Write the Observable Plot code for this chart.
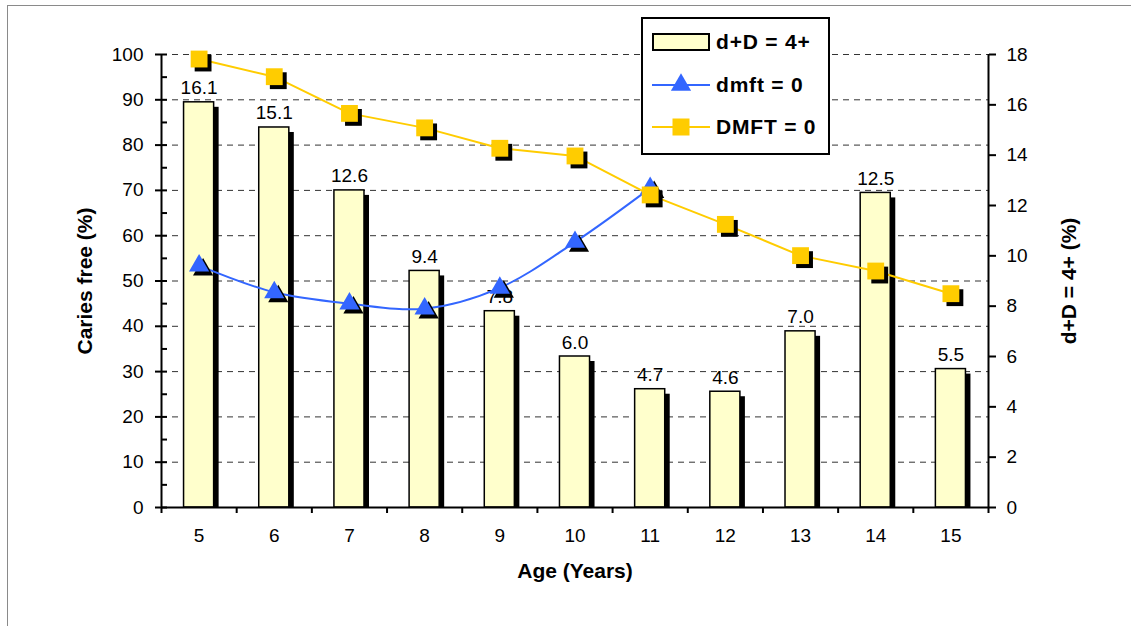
<!DOCTYPE html>
<html>
<head>
<meta charset="utf-8">
<script src="https://cdn.jsdelivr.net/npm/d3@7"></script>
<script src="https://cdn.jsdelivr.net/npm/@observablehq/plot@0.6"></script>
<style>
  html, body { margin:0; padding:0; background:#fff; }
  #wrap { position:relative; width:1131px; height:626px; overflow:hidden; font-family:"Liberation Sans", Arial, sans-serif; }
  #frame { position:absolute; left:7px; top:5px; width:1200px; height:700px; border-left:1.5px solid #8a8a8a; border-top:1.5px solid #8a8a8a; }
  #chart { position:absolute; left:0; top:0; }
  #legend { position:absolute; left:641px; top:17px; width:189px; height:138px; box-sizing:border-box; border:2px solid #000; background:#fff; }
  .row { position:absolute; left:9px; height:30px; display:flex; align-items:center; }
  .row span { font-weight:bold; font-size:21px; letter-spacing:0.8px; margin-left:6px; color:#000; white-space:nowrap; }
</style>
</head>
<body>
<div id="wrap">
  <div id="frame"></div>
  <div id="chart"></div>
  <div id="legend"></div>
</div>
<script>
// ---- data ----
const ages = [5, 6, 7, 8, 9, 10, 11, 12, 13, 14, 15];
const d4plus = [16.1, 15.1, 12.6, 9.4, 7.8, 6.0, 4.7, 4.6, 7.0, 12.5, 5.5];   // right axis (%)
const dmftAges = [5, 6, 7, 8, 9, 10, 11];
const dmft0 = [53.4, 47.5, 45.0, 43.9, 48.5, 58.6, 70.5];                 // left axis (%)
const DMFT0 = [99.0, 95.1, 87.0, 83.8, 79.3, 77.6, 69.0, 62.5, 55.6, 52.2, 47.2]; // left axis (%)
const leftTicks = [0, 10, 20, 30, 40, 50, 60, 70, 80, 90, 100];
const leftMinor = [5, 15, 25, 35, 45, 55, 65, 75, 85, 95];
const rightTicks = [0, 2, 4, 6, 8, 10, 12, 14, 16, 18];
const rightMax = 18, leftMax = 100;
const seriesNames = ["d+D = 4+", "dmft = 0", "DMFT = 0"];
const colors = {bar: "#FFFFCC", dmft: "#3366FF", DMFT: "#FFCC00"};

const toLeft = v => v * leftMax / rightMax;
const bars = ages.map((a, i) => ({age: a, v: d4plus[i], y: toLeft(d4plus[i])}));
const dmft = dmftAges.map((a, i) => ({age: a, y: dmft0[i]}));
const DMFT = ages.map((a, i) => ({age: a, y: DMFT0[i]}));
const bounds = [...ages.map(a => a - 0.5), ages[ages.length - 1] + 0.5];
const halfW = 0.2;

const chart = Plot.plot({
  width: 1131, height: 626,
  marginLeft: 161, marginRight: 143, marginTop: 54, marginBottom: 119,
  x: {type: "linear", domain: [bounds[0], bounds[bounds.length - 1]]},
  y: {domain: [0, leftMax]},
  style: {fontFamily: "'Liberation Sans', Arial, sans-serif", fontSize: "19px", color: "black", background: "transparent", overflow: "visible"},
  marks: [
    Plot.gridY(leftTicks.slice(1), {stroke: "#333", strokeOpacity: 1, strokeWidth: 1, strokeDasharray: "6,5"}),
    Plot.rectY(bars, {x1: d => d.age - halfW, x2: d => d.age + halfW, y: "y", fill: "black", dx: 5, insetTop: 5}),
    Plot.rectY(bars, {x1: d => d.age - halfW, x2: d => d.age + halfW, y: "y", fill: colors.bar, stroke: "black", strokeWidth: 1.5}),
    Plot.text(bars, {x: "age", y: "y", text: d => d.v.toFixed(1), lineAnchor: "bottom", dy: -8, fontSize: 19}),
    Plot.line(dmft, {x: "age", y: "y", stroke: colors.dmft, strokeWidth: 2, curve: "catmull-rom"}),
    Plot.dot(dmft, {x: "age", y: "y", symbol: "triangle", r: 7.5, fill: "black", dx: 4, dy: 4}),
    Plot.dot(dmft, {x: "age", y: "y", symbol: "triangle", r: 7.5, fill: colors.dmft}),
    Plot.line(DMFT, {x: "age", y: "y", stroke: colors.DMFT, strokeWidth: 2}),
    Plot.dot(DMFT, {x: "age", y: "y", symbol: "square", r: 9.5, fill: "black", dx: 4, dy: 4}),
    Plot.dot(DMFT, {x: "age", y: "y", symbol: "square", r: 9.5, fill: colors.DMFT}),
    // axes
    Plot.axisY(leftTicks, {anchor: "left", tickSize: 6, tickPadding: 12, strokeWidth: 2, fontSize: 19, label: null}),
    Plot.axisY(leftTicks.concat(leftMinor), {anchor: "left", tickSize: -6, tickFormat: () => "", strokeWidth: 2, label: null}),
    Plot.axisY(rightTicks.map(toLeft), {anchor: "right", tickSize: 7, tickPadding: 11, strokeWidth: 2, fontSize: 19, tickFormat: d => String(Math.round(d * rightMax / leftMax)), label: null}),
    Plot.axisX(bounds, {anchor: "bottom", tickSize: 6, tickFormat: () => "", strokeWidth: 2, label: null}),
    Plot.axisX(ages, {anchor: "bottom", tickSize: 0, tickPadding: 21, fontSize: 19, label: null}),
    Plot.ruleX([bounds[0], bounds[bounds.length - 1]], {stroke: "black", strokeWidth: 2}),
    Plot.ruleY([0], {stroke: "black", strokeWidth: 2}),
    // titles
    Plot.text(["Caries free (%)"], {frameAnchor: "left", textAnchor: "middle", dx: -76, rotate: -90, fontWeight: "bold", fontSize: 21}),
    Plot.text(["d+D = 4+ (%)"], {frameAnchor: "right", textAnchor: "middle", dx: 81, rotate: -90, fontWeight: "bold", fontSize: 21}),
    Plot.text(["Age (Years)"], {frameAnchor: "bottom", textAnchor: "middle", dy: 70, fontWeight: "bold", fontSize: 21})
  ]
});
document.getElementById("chart").appendChild(chart);

// legend
const legend = document.getElementById("legend");
const swatches = [
  `<svg width="58" height="20"><rect x="1" y="2" width="56" height="16" fill="${colors.bar}" stroke="black" stroke-width="2"/></svg>`,
  `<svg width="58" height="24"><line x1="0" y1="12" x2="58" y2="12" stroke="${colors.dmft}" stroke-width="2"/><path d="${d3.symbol(d3.symbolTriangle, Math.PI * 7.5 * 7.5)()}" transform="translate(29,12)" fill="${colors.dmft}"/></svg>`,
  `<svg width="58" height="24"><line x1="0" y1="12" x2="58" y2="12" stroke="${colors.DMFT}" stroke-width="2"/><rect x="20.5" y="3.5" width="17" height="17" fill="${colors.DMFT}"/></svg>`
];
const rowTops = [8, 51, 93];
seriesNames.forEach((name, i) => {
  const r = document.createElement("div");
  r.className = "row";
  r.style.top = rowTops[i] + "px";
  r.innerHTML = swatches[i] + `<span>${name}</span>`;
  legend.appendChild(r);
});
</script>
</body>
</html>
